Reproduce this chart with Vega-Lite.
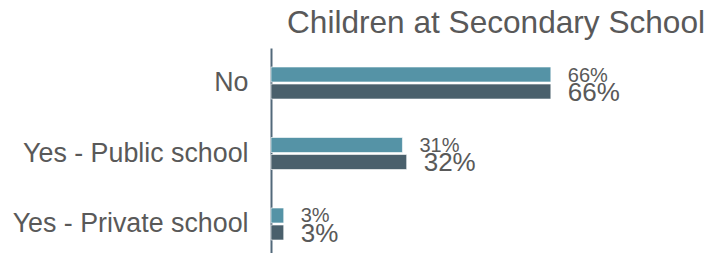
{
  "$schema": "https://vega.github.io/schema/vega-lite/v6.json",
  "width": 424,
  "height": 205,
  "autosize": {"type": "none"},
  "padding": {"left": 271, "top": 48, "right": 22, "bottom": 0},
  "background": "white",
  "config": {
    "view": {"stroke": null},
    "font": "Liberation Sans"
  },
  "title": {
    "text": "Children at Secondary School",
    "font": "Liberation Sans",
    "fontSize": 31.6,
    "fontWeight": "normal",
    "color": "#595959",
    "anchor": "end",
    "frame": "group",
    "offset": 8,
    "dx": 10
  },
  "data": {
    "values": [
      {"answer": "No", "series": "Series 1", "value": 66, "label": "66%"},
      {"answer": "No", "series": "Series 2", "value": 66, "label": "66%"},
      {"answer": "Yes - Public school", "series": "Series 1", "value": 31, "label": "31%"},
      {"answer": "Yes - Public school", "series": "Series 2", "value": 32, "label": "32%"},
      {"answer": "Yes - Private school", "series": "Series 1", "value": 3, "label": "3%"},
      {"answer": "Yes - Private school", "series": "Series 2", "value": 3, "label": "3%"}
    ]
  },
  "encoding": {
    "y": {
      "field": "answer",
      "type": "nominal",
      "sort": ["No", "Yes - Public school", "Yes - Private school"],
      "scale": {"paddingInner": 0.546, "paddingOuter": 0.227, "align": 0.594},
      "axis": {
        "title": null,
        "ticks": false,
        "labelPadding": 23,
        "labelFontSize": 26.8,
        "labelLimit": 0,
        "labelFont": "Liberation Sans",
        "labelColor": "#595959",
        "domainColor": "#52697A",
        "domainWidth": 2,
        "grid": false
      }
    },
    "yOffset": {
      "field": "series",
      "type": "nominal",
      "scale": {"paddingInner": 0.12, "paddingOuter": 0}
    },
    "x": {
      "field": "value",
      "type": "quantitative",
      "scale": {"domain": [0, 100]},
      "axis": null
    }
  },
  "layer": [
    {
      "mark": {"type": "bar", "stroke": "white", "strokeWidth": 0.6},
      "encoding": {
        "color": {
          "field": "series",
          "type": "nominal",
          "scale": {"domain": ["Series 1", "Series 2"], "range": ["#5593A6", "#4A606C"]},
          "legend": null
        }
      }
    },
    {
      "mark": {"type": "text", "align": "left", "baseline": "middle", "dx": 17, "dy": 1, "color": "#595959", "font": "Liberation Sans"},
      "encoding": {
        "text": {"field": "label"},
        "size": {
          "field": "series",
          "type": "nominal",
          "scale": {"domain": ["Series 1", "Series 2"], "range": [20, 26]},
          "legend": null
        }
      }
    }
  ]
}
